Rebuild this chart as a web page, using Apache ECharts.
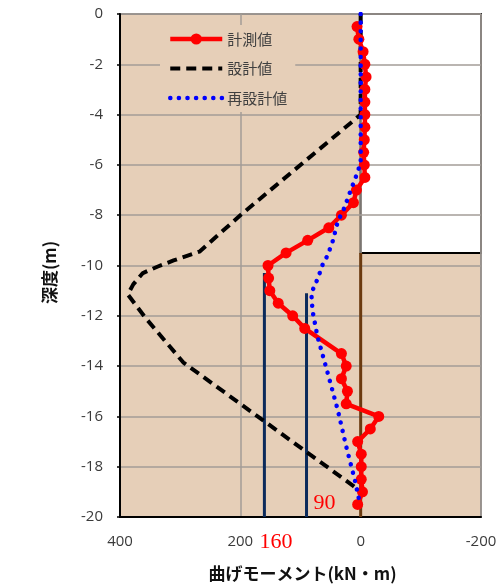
<!DOCTYPE html>
<html>
<head>
<meta charset="utf-8">
<script src="https://cdn.jsdelivr.net/npm/echarts@6/dist/echarts.min.js"></script>
<style>
  html, body { margin: 0; padding: 0; background: #ffffff; }
  #chart { width: 502px; height: 587px; }
</style>
</head>
<body>
<div id="chart"></div>
<script>
// 計測値 (measured bending moment, kN·m) by depth (m)
const measuredDepth = [-0.5, -1, -1.5, -2, -2.5, -3, -3.5, -4, -4.5, -5, -5.5, -6, -6.5, -7, -7.5, -8, -8.5, -9, -9.5, -10,
  -10.5, -11, -11.5, -12, -12.5, -13.5, -14, -14.5, -15, -15.5, -16, -16.5, -17, -17.5, -18, -18.5, -19, -19.5];
const measuredMoment = [6, 3, -4, -7, -9, -7, -7, -7, -7, -6, -5, -6, -7, 7, 12, 32, 53, 88, 124, 154,
  153, 151, 137, 113, 93, 32, 24, 32, 22, 24, -30, -16, 5, -1, -1, -1, -3, 5];

// 設計値 (design moment)
const designDepth = [0, -4, -8, -9.45, -9.8, -10.05, -10.3, -10.75, -11.15, -12.1, -13.85, -15.5, -17.45, -18.75, -19.0];
const designMoment = [0, 0, 200, 268, 311, 338, 362, 378, 387, 357, 295, 200, 88, 13, 0];

// 再設計値 (redesign moment)
const redesignDepth = [0, -5.9, -6.35, -7.1, -7.7, -8.25, -9.0, -9.6, -9.95, -10.5, -11.1, -11.8, -12.8, -14.0, -15.75, -17.2, -18.5, -19.5];
const redesignMoment = [0, 0, 6, 18, 27, 38, 46, 55, 63, 71, 82, 80, 72, 58, 38, 24, 10, 1];

// allowable moment limits and the depth each starts from
const limitMoment = [160, 90];
const limitTopDepth = [-10.3, -11.1];
const limitColor = ['#0b2a5b', '#0b2a5b'];

// wall line and the excavated zone
const wallMoment = 0;
const excavationDepth = -9.5;
const excavationMomentRange = [0, -200];

// axes
const momentRange = [-200, 400];
const depthRange = [-20, 0];
const seriesNames = ['計測値', '設計値', '再設計値'];

const TAN = '#e6cfb8';
const DESIGN_DASH = { color: '#000', width: 4, type: [10, 6], cap: 'butt' };
const REDESIGN_DOT = { color: '#0000ff', width: 4.5, type: [0.1, 8.5], cap: 'round' };
const toPairs = (xs, ys) => xs.map((x, i) => [x, ys[i]]);

const chart = echarts.init(document.getElementById('chart'), null, { renderer: 'canvas' });

const limitSeries = limitMoment.map((m, i) => ({
  name: 'limit' + m,
  type: 'line',
  data: [[m, limitTopDepth[i]], [m, depthRange[0]]],
  symbol: 'none',
  z: 2,
  lineStyle: { color: limitColor[i], width: 3 },
  silent: true
}));

const option = {
  animation: false,
  grid: {
    left: 120, right: 21, top: 14, bottom: 66,
    show: true, backgroundColor: 'transparent', borderColor: '#5a5a5a', borderWidth: 1.5
  },
  legend: {
    data: [
      { name: seriesNames[0], lineStyle: { width: 4.5 } },
      { name: seriesNames[1], itemStyle: { opacity: 0 }, lineStyle: DESIGN_DASH },
      { name: seriesNames[2], itemStyle: { opacity: 0 }, lineStyle: REDESIGN_DOT }
    ],
    orient: 'vertical',
    left: 160, top: 25,
    padding: [4, 8, 4, 8],
    itemGap: 9.5,
    itemWidth: 52, itemHeight: 14,
    backgroundColor: TAN,
    textStyle: { fontSize: 15, color: '#404040', fontFamily: 'Noto Sans CJK JP', lineHeight: 20 }
  },
  xAxis: {
    type: 'value', min: momentRange[0], max: momentRange[1], interval: 200, inverse: true,
    name: '曲げモーメント(kN・m)', nameLocation: 'middle', nameGap: 48,
    nameTextStyle: { fontSize: 17, fontWeight: 'bold', color: '#111', fontFamily: 'Noto Sans CJK JP', padding: [0, 0, 0, 4] },
    axisLine: { onZero: false, lineStyle: { color: '#000', width: 2 } },
    axisTick: { show: false },
    axisLabel: { margin: 17, fontSize: 15, color: '#3a3a3a', fontFamily: 'Open Sans' },
    splitLine: { show: true, lineStyle: { color: '#a39d97', width: 1.5 } }
  },
  yAxis: {
    type: 'value', min: depthRange[0], max: depthRange[1], interval: 2,
    name: '深度(m)', nameLocation: 'middle', nameGap: 62, nameRotate: 90,
    nameTextStyle: { fontSize: 17, fontWeight: 'bold', color: '#111', fontFamily: 'Noto Sans CJK JP', padding: [0, 0, 0, -14] },
    axisLine: { onZero: false, lineStyle: { color: '#000', width: 2 } },
    axisTick: { show: true, length: 3, lineStyle: { color: '#000', width: 1.5 } },
    axisLabel: { margin: 17, fontSize: 15, color: '#3a3a3a', fontFamily: 'Open Sans' },
    splitLine: { show: true, lineStyle: { color: '#a39d97', width: 1.5 } }
  },
  series: [
    {
      name: 'wall', type: 'line', symbol: 'none', silent: true, z: 1,
      data: [[wallMoment, excavationDepth], [wallMoment, depthRange[0]]],
      lineStyle: { color: '#6b3a10', width: 3 }
    },
    ...limitSeries,
    {
      name: '設計値', type: 'line', symbol: 'none', z: 3,
      data: toPairs(designMoment, designDepth),
      lineStyle: DESIGN_DASH,
      itemStyle: { color: '#000' }
    },
    {
      name: '計測値', type: 'line', symbol: 'circle', symbolSize: 11, z: 4,
      data: toPairs(measuredMoment, measuredDepth),
      lineStyle: { color: '#ff0000', width: 4.5 },
      itemStyle: { color: '#ff0000' }
    },
    {
      name: '再設計値', type: 'line', symbol: 'none', z: 5,
      data: toPairs(redesignMoment, redesignDepth),
      lineStyle: REDESIGN_DOT,
      itemStyle: { color: '#0000ff' }
    }
  ]
};

chart.setOption(option);

// plot background and the excavated zone, placed through the axes
const px = (m, d) => chart.convertToPixel({ gridIndex: 0 }, [m, d]);
const plotA = px(momentRange[1], depthRange[1]);
const plotB = px(momentRange[0], depthRange[0]);
const boxA = px(excavationMomentRange[0], 0);
const boxB = px(excavationMomentRange[1], excavationDepth);
const lbl160 = px(limitMoment[0], depthRange[0]);
const lbl90 = px(limitMoment[1], depthRange[0]);

chart.setOption({
  graphic: [
    {
      type: 'rect', z: -20, silent: true,
      shape: { x: plotA[0], y: plotA[1], width: plotB[0] - plotA[0], height: plotB[1] - plotA[1] },
      style: { fill: TAN }
    },
    {
      type: 'rect', z: -10, silent: true,
      shape: { x: boxA[0], y: boxA[1], width: boxB[0] - boxA[0], height: boxB[1] - boxA[1] },
      style: { fill: '#ffffff', stroke: '#000', lineWidth: 2 }
    },
    {
      type: 'text', z: 10, silent: true,
      x: lbl160[0] - 5, y: lbl160[1] + 25,
      style: { text: String(limitMoment[0]), fill: '#ff0000', font: '22px "Liberation Serif", "DejaVu Serif", serif', verticalAlign: 'middle', align: 'left' }
    },
    {
      type: 'text', z: 10, silent: true,
      x: lbl90[0] + 7, y: lbl90[1] - 14,
      style: { text: String(limitMoment[1]), fill: '#ff0000', font: '22px "Liberation Serif", "DejaVu Serif", serif', verticalAlign: 'middle', align: 'left' }
    }
  ]
});
</script>
</body>
</html>
